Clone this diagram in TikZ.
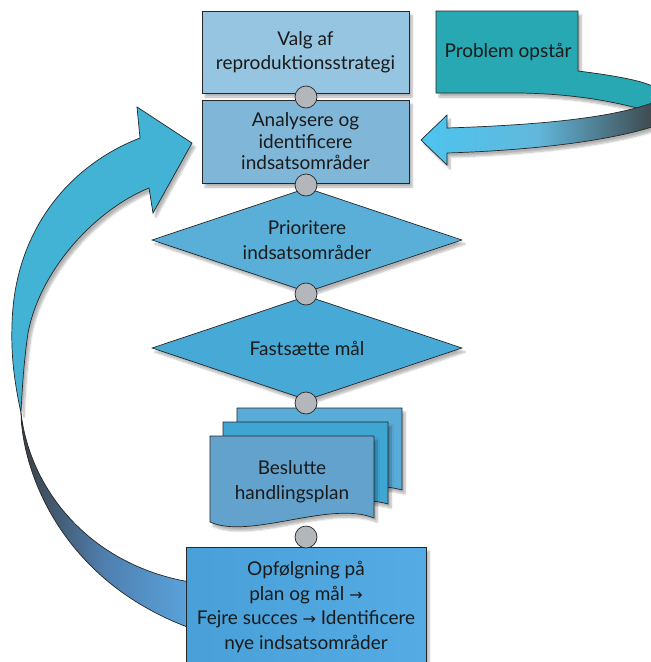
\documentclass[tikz,border=0pt]{standalone}
\usepackage{fontspec}
\setmainfont{Lato}
\newfontfamily\arrowfont{DejaVu Sans}
\usetikzlibrary{shapes.geometric,shadows.blur}
\definecolor{boxA}{HTML}{95C5E0}
\definecolor{boxB}{HTML}{80B7D8}
\definecolor{diaA}{HTML}{5AAFD8}
\definecolor{diaB}{HTML}{47A9D6}
\definecolor{pgBack}{HTML}{5AACD8}
\definecolor{pgMid}{HTML}{3FA6D4}
\definecolor{pgFront}{HTML}{64A2CE}
\definecolor{boxC}{HTML}{4CA7E2}
\definecolor{teal}{HTML}{28A8B3}
\definecolor{cyanArrow}{HTML}{42B2D5}
\definecolor{conGray}{HTML}{B3B6BA}
\definecolor{darkRib}{HTML}{3C4148}
\definecolor{midRib}{HTML}{4F80B0}
\definecolor{ribBlue}{HTML}{5AA3DC}
\definecolor{frontL}{HTML}{4CC4EE}
\definecolor{frontM}{HTML}{62B8DC}
\definecolor{frontR}{HTML}{3F4A50}
\definecolor{txtCol}{HTML}{1A1A1A}
\newcommand{\arr}{{\arrowfont\fontsize{16}{16}\selectfont →}}
\begin{document}
\begin{tikzpicture}[x=1pt,y=-1pt,
  txt/.style={align=center, text=txtCol, inner sep=0pt},
  fnt/.style={font=\fontsize{19}{#1}\selectfont},
  shp/.style={draw=black!85, line width=0.7pt},
  shd/.style={blur shadow={shadow xshift=3pt, shadow yshift=-4pt, shadow opacity=30, shadow blur steps=8}},
  conn/.style={circle, draw=black!85, fill=conGray, minimum size=22pt, inner sep=0pt, line width=0.7pt},
  boxnode/.style={rectangle, shp, shd, minimum width=207pt, inner sep=0pt}]
\useasboundingbox (0,0) rectangle (651,662);
\clip (0,0) rectangle (651,662);

% left cyclic arrow: lower (twisted) band
\path[shp, left color=darkRib, right color=ribBlue, middle color=midRib]
  (21,413) .. controls (22,470) and (60,580) .. (190,628)
  -- (190,582) .. controls (90,565) and (30,490) .. (21,413) -- cycle;
% left cyclic arrow: upper band with head
\path[shp, shd, fill=cyanArrow]
  (21,413) .. controls (14,380) and (11,355) .. (12,325)
  .. controls (14,230) and (70,165) .. (140,138)
  -- (137,107) -- (192,143) -- (153,213) -- (149,188)
  .. controls (95,210) and (40,270) .. (28,333)
  .. controls (24,360) and (22,390) .. (21,413) -- cycle;

% Problem box with back part of its ribbon
\path[shp, shd, fill=teal]
  (436,11) -- (578,11) -- (578,71) .. controls (610,75) and (640,80) .. (652,86)
  -- (652,112) .. controls (620,103) and (580,94) .. (520,93) -- (436,93) -- cycle;
\node[txt, fnt=20] (prob) at (508,52) {Problem opstår};
% front part of ribbon with head
\path[shp, shd, left color=frontL, right color=frontR, middle color=frontM]
  (447,128) .. controls (540,125) and (610,118) .. (652,103)
  -- (652,127) .. controls (610,140) and (540,150) .. (447,153)
  -- (447,165) -- (421,140) -- (447,115) -- cycle;

% boxes
\node[boxnode, fill=boxA, minimum height=82pt] (b1) at (305.5,52) {};
\node[txt, fnt=24] (t1) at (b1) {Valg af\\reproduktionsstrategi};
\node[boxnode, fill=boxB, minimum height=83pt] (b2) at (305.5,141.5) {};
\node[txt, fnt=21.5] (t2) at (b2) {Analysere og\\identificere\\indsatsområder};

% diamonds
\node[diamond, shp, shd, fill=diaA, minimum width=310pt, minimum height=104pt, inner sep=0pt] (d1) at (307,240) {};
\node[txt, fnt=25] (t3) at (d1) {Prioritere\\indsatsområder};
\node[diamond, shp, shd, fill=diaB, minimum width=310pt, minimum height=104pt, inner sep=0pt] (d2) at (307,348) {};
\node[txt, fnt=22] (t4) at (d2) {Fastsætte mål};

% document stack
\path[shp, shd, fill=pgBack] (237,408) -- (402,408) -- (402,490)
  .. controls (360,478) and (330,505) .. (290,500) -- (237,495) -- cycle;
\path[shp, shd, fill=pgMid] (223,422) -- (388,422) -- (388,504)
  .. controls (346,492) and (316,519) .. (276,514) -- (223,509) -- cycle;
\path[shp, shd, fill=pgFront] (210,436) -- (374,436) -- (374,518)
  .. controls (330,500) and (250,540) .. (210,522) -- cycle;
\node[txt, fnt=25] (t5) at (292,482) {Beslutte\\handlingsplan};

% bottom box
\node[rectangle, shp, shd, left color=boxC!96!black, right color=boxC!95!white, minimum width=240pt, minimum height=122pt, inner sep=0pt] (b3) at (306,608) {};
\node[txt, fnt=24.5] (t6) at (306,607) {Opfølgning på\\plan og mål \arr\\Fejre succes \arr\ Identificere\\nye indsatsområder};

% connector circles
\node[conn] (c1) at (306,97) {};
\node[conn] (c2) at (306,185) {};
\node[conn] (c3) at (306,294) {};
\node[conn] (c4) at (306,403) {};
\node[conn] (c5) at (306,537) {};
\end{tikzpicture}
\end{document}
